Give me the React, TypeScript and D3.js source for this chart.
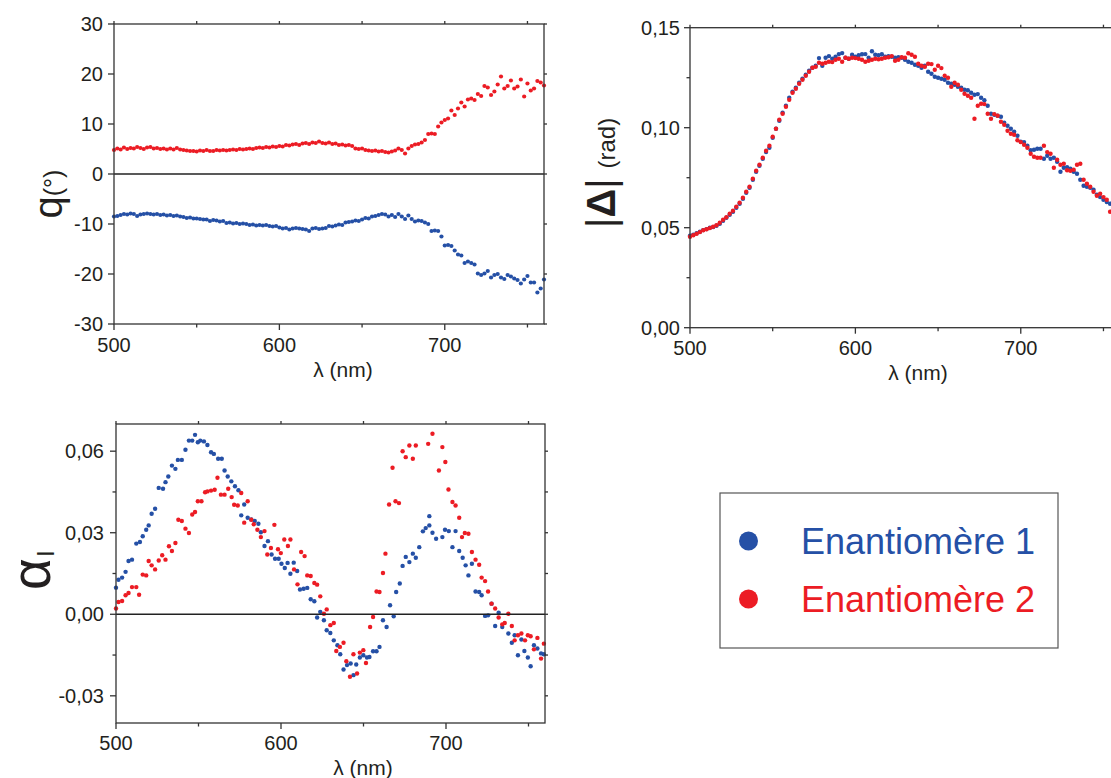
import React from 'react';
import * as d3 from 'd3';

// ---------- DATA ----------
const wlGrid = [
  500, 502, 504, 506, 508, 510, 512, 514, 516, 518,
  520, 522, 524, 526, 528, 530, 532, 534, 536, 538,
  540, 542, 544, 546, 548, 550, 552, 554, 556, 558,
  560, 562, 564, 566, 568, 570, 572, 574, 576, 578,
  580, 582, 584, 586, 588, 590, 592, 594, 596, 598,
  600, 602, 604, 606, 608, 610, 612, 614, 616, 618,
  620, 622, 624, 626, 628, 630, 632, 634, 636, 638,
  640, 642, 644, 646, 648, 650, 652, 654, 656, 658,
  660, 662, 664, 666, 668, 670, 672, 674, 676, 678,
  680, 682, 684, 686, 688, 690, 692, 694, 696, 698,
  700, 702, 704, 706, 708, 710, 712, 714, 716, 718,
  720, 722, 724, 726, 728, 730, 732, 734, 736, 738,
  740, 742, 744, 746, 748, 750, 752, 754, 756, 758,
  760,
];

// q (°) – Enantiomère 2 (red)
const qRed = [
  4.8, 5.1, 4.9, 5.3, 5.0, 5.2, 5.1, 5.4, 5.2, 5.0,
  5.3, 5.4, 5.1, 5.2, 5.0, 5.1, 4.9, 5.1, 4.9, 5.2,
  4.9, 4.8, 4.7, 4.6, 4.6, 4.5, 4.7, 4.6, 4.8, 4.6,
  4.6, 4.8, 4.7, 4.8, 4.7, 4.8, 4.9, 4.8, 5.0, 4.9,
  5.0, 5.1, 5.0, 5.2, 5.3, 5.2, 5.4, 5.3, 5.5, 5.4,
  5.6, 5.5, 5.8, 5.7, 5.9, 6.0, 5.8, 6.1, 6.2, 6.0,
  6.3, 6.2, 6.5, 6.2, 6.1, 6.3, 6.0, 6.1, 5.8, 5.9,
  5.7, 5.8, 5.6, 5.1, 5.0, 5.1, 4.8, 4.7, 4.6, 4.7,
  4.5, 4.6, 4.4, 4.3, 4.5, 4.7, 5.1, 4.8, 4.1, 5.1,
  5.6, 5.9, 6.0, 6.3, 6.8, 8.0, 8.1, 8.0, 9.5, 10.3,
  10.8, 11.1, 12.7, 11.8, 13.1, 14.3, 13.5, 14.9, 15.1, 14.8,
  16.0, 15.6, 17.6, 17.3, 15.8, 16.5, 17.9, 19.5, 17.1, 17.6,
  18.7, 17.1, 17.5, 18.9, 15.5, 18.1, 16.7, 17.1, 18.6, 18.3,
  17.7,
];

// q (°) – Enantiomère 1 (blue)
const qBlue = [
  -8.5, -8.4, -8.2, -8.0, -8.1, -7.9, -8.0, -8.4, -8.1, -8.0,
  -7.9, -8.0, -8.1, -8.0, -8.2, -8.1, -8.3, -8.2, -8.4, -8.3,
  -8.5, -8.6, -8.8, -8.7, -8.9, -8.9, -9.0, -9.1, -9.1, -9.4,
  -9.2, -9.3, -9.5, -9.4, -9.8, -9.7, -9.9, -9.8, -10.0, -9.9,
  -10.0, -10.2, -10.1, -10.3, -10.2, -10.3, -10.2, -10.4, -10.5, -10.4,
  -10.7, -10.9, -10.8, -11.1, -10.9, -10.8, -10.9, -11.0, -11.1, -11.4,
  -10.9, -10.8, -11.0, -10.9, -10.8, -10.4, -10.5, -10.3, -10.1, -10.2,
  -9.7, -9.6, -9.5, -9.3, -9.4, -9.1, -8.8, -8.9, -8.5, -8.4,
  -8.2, -8.0, -8.1, -8.5, -8.2, -8.6, -8.0, -8.5, -9.0, -8.3,
  -9.0, -9.5, -9.3, -9.4, -9.7, -10.0, -11.4, -11.3, -11.4, -12.5,
  -14.3, -14.2, -14.4, -15.3, -16.1, -16.3, -17.8, -17.5, -17.8, -18.1,
  -19.9, -20.2, -19.9, -19.4, -20.7, -20.2, -20.0, -20.7, -21.0, -20.2,
  -20.5, -20.9, -21.2, -21.9, -21.1, -20.4, -21.7, -21.7, -23.7, -22.9,
  -21.1,
];

// |Δ| (rad) – Enantiomère 2 (red)
const dRed = [
  0.0455, 0.0462, 0.0470, 0.0478, 0.0487, 0.0492, 0.0498, 0.0505, 0.0512, 0.0525,
  0.0540, 0.0552, 0.0570, 0.0585, 0.0605, 0.0625, 0.0650, 0.0680, 0.0705, 0.0745,
  0.0785, 0.0815, 0.0850, 0.0885, 0.0910, 0.0955, 0.0995, 0.1040, 0.1070, 0.1105,
  0.1140, 0.1175, 0.1195, 0.1220, 0.1240, 0.1260, 0.1280, 0.1300, 0.1305, 0.1325,
  0.1320, 0.1325, 0.1330, 0.1328, 0.1340, 0.1345, 0.1330, 0.1350, 0.1345, 0.1350,
  0.1348, 0.1345, 0.1340, 0.1330, 0.1335, 0.1340, 0.1345, 0.1342, 0.1345, 0.1350,
  0.1352, 0.1358, 0.1335, 0.1340, 0.1352, 0.1350, 0.1372, 0.1365, 0.1355, 0.1320,
  0.1310, 0.1305, 0.1320, 0.1318, 0.1290, 0.1310, 0.1298, 0.1260, 0.1250, 0.1205,
  0.1225, 0.1215, 0.1190, 0.1170, 0.1160, 0.1150, 0.1045, 0.1110, 0.1120, 0.1118,
  0.1070, 0.1045, 0.1068, 0.1060, 0.1030, 0.1015, 0.0985, 0.0970, 0.0965, 0.0937,
  0.0928, 0.0915, 0.0900, 0.0870, 0.0855, 0.0850, 0.0850, 0.0910, 0.0878, 0.0870,
  0.0800, 0.0840, 0.0815, 0.0820, 0.0787, 0.0785, 0.0790, 0.0815, 0.0820, 0.0740,
  0.0720, 0.0705, 0.0680, 0.0660, 0.0670, 0.0653, 0.0640, 0.0580, 0.0600, 0.0575,
  0.0560,
];

// |Δ| (rad) – Enantiomère 1 (blue)
const dBlue = [
  0.0460, 0.0465, 0.0472, 0.0480, 0.0488, 0.0493, 0.0500, 0.0503, 0.0510, 0.0520,
  0.0535, 0.0550, 0.0565, 0.0580, 0.0600, 0.0620, 0.0645, 0.0675, 0.0700, 0.0740,
  0.0780, 0.0810, 0.0845, 0.0878, 0.0900, 0.0950, 0.0995, 0.1035, 0.1075, 0.1110,
  0.1150, 0.1180, 0.1200, 0.1225, 0.1245, 0.1265, 0.1285, 0.1300, 0.1310, 0.1348,
  0.1310, 0.1350, 0.1358, 0.1345, 0.1355, 0.1368, 0.1373, 0.1350, 0.1345, 0.1365,
  0.1355, 0.1362, 0.1367, 0.1368, 0.1350, 0.1382, 0.1365, 0.1362, 0.1367, 0.1355,
  0.1357, 0.1355, 0.1350, 0.1352, 0.1350, 0.1340, 0.1330, 0.1325, 0.1315, 0.1310,
  0.1300, 0.1310, 0.1280, 0.1270, 0.1255, 0.1250, 0.1245, 0.1240, 0.1225, 0.1220,
  0.1215, 0.1205, 0.1200, 0.1190, 0.1187, 0.1175, 0.1165, 0.1168, 0.1150, 0.1137,
  0.1110, 0.1070, 0.1065, 0.1060, 0.1055, 0.1025, 0.1010, 0.0995, 0.0980, 0.0960,
  0.0930, 0.0928, 0.0910, 0.0887, 0.0890, 0.0895, 0.0895, 0.0845, 0.0860, 0.0845,
  0.0850, 0.0830, 0.0780, 0.0800, 0.0803, 0.0795, 0.0780, 0.0770, 0.0740, 0.0710,
  0.0705, 0.0700, 0.0690, 0.0665, 0.0653, 0.0640, 0.0628, 0.0620, 0.0610, 0.0600,
  0.0590,
];

// α_l – Enantiomère 1 (blue)
const alphaBlueWl = [
  500.0, 501.5, 503.7, 505.8, 507.6, 509.7, 512.3, 514.5, 516.2, 518.3,
  519.8, 521.6, 523.7, 525.9, 528.5, 530.0, 531.7, 533.9, 536.0, 537.5,
  539.9, 542.1, 544.2, 546.2, 547.9, 549.6, 551.1, 553.3, 555.4, 557.6,
  559.3, 561.9, 564.1, 565.8, 567.7, 569.9, 572.1, 574.2, 575.9, 577.7,
  579.8, 582.0, 584.1, 586.3, 587.8, 590.0, 592.1, 594.3, 596.4, 598.6,
  600.3, 602.3, 604.0, 605.7, 607.7, 609.8, 611.5, 613.7, 615.9, 618.0,
  620.2, 621.9, 623.8, 626.0, 627.7, 629.9, 632.0, 634.2, 635.9, 637.9,
  640.0, 642.2, 643.9, 645.6, 647.8, 649.9, 652.1, 653.6, 655.8, 657.9,
  659.7, 661.8, 664.0, 666.1, 668.3, 669.8, 672.0, 673.7, 675.6, 677.8,
  679.9, 681.7, 683.8, 686.0, 687.7, 689.9, 689.9, 691.8, 694.0, 697.8,
  699.4, 701.7, 703.9, 705.8, 708.0, 710.1, 711.9, 713.6, 715.7, 717.9,
  720.1, 721.6, 723.7, 725.5, 727.6, 729.8, 731.9, 734.1, 737.8, 739.9,
  741.6, 743.6, 745.7, 747.5, 749.6, 751.3, 753.3, 755.4, 757.6, 759.3,
];
const alphaBlueVal = [
  0.0098, 0.0127, 0.0135, 0.0156, 0.0196, 0.0201, 0.0260, 0.0266, 0.0287, 0.0311,
  0.0327, 0.0370, 0.0388, 0.0465, 0.0462, 0.0486, 0.0507, 0.0547, 0.0535, 0.0568,
  0.0568, 0.0605, 0.0639, 0.0639, 0.0660, 0.0633, 0.0639, 0.0636, 0.0623, 0.0596,
  0.0590, 0.0572, 0.0572, 0.0529, 0.0507, 0.0489, 0.0471, 0.0456, 0.0364, 0.0404,
  0.0355, 0.0349, 0.0343, 0.0333, 0.0302, 0.0251, 0.0269, 0.0220, 0.0204, 0.0204,
  0.0186, 0.0170, 0.0189, 0.0149, 0.0190, 0.0159, 0.0091, 0.0094, 0.0097, 0.0055,
  0.0048, -0.0012, 0.0009, -0.0022, -0.0059, -0.0069, -0.0096, -0.0114, -0.0147, -0.0203,
  -0.0187, -0.0181, -0.0224, -0.0185, -0.0159, -0.0151, -0.0159, -0.0157, -0.0136, -0.0136,
  -0.0120, -0.0022, -0.0047, 0.0033, -0.0007, 0.0082, 0.0113, 0.0178, 0.0211, 0.0192,
  0.0223, 0.0208, 0.0247, 0.0305, 0.0317, 0.0327, 0.0361, 0.0300, 0.0278, 0.0284,
  0.0311, 0.0306, 0.0247, 0.0306, 0.0233, 0.0208, 0.0180, 0.0143, 0.0186, 0.0084,
  0.0082, 0.0070, -0.0006, -0.0004, 0.0039, -0.0043, 0.0006, -0.0047, -0.0071, -0.0105,
  -0.0077, -0.0151, -0.0093, -0.0135, -0.0159, -0.0191, -0.0114, -0.0126, -0.0144, -0.0147,
];

// α_l – Enantiomère 2 (red)
const alphaRedWl = [
  500.0, 501.5, 503.7, 505.8, 507.6, 509.7, 512.3, 514.0, 516.2, 518.3,
  519.8, 521.6, 523.7, 525.9, 528.0, 530.0, 532.1, 533.9, 536.0, 537.8,
  539.9, 542.1, 544.2, 546.2, 547.9, 549.6, 551.8, 554.0, 555.4, 557.6,
  559.8, 561.5, 563.6, 565.8, 568.0, 570.1, 571.6, 573.8, 575.9, 577.7,
  579.8, 582.0, 583.5, 585.7, 587.8, 590.0, 591.7, 593.9, 596.0, 598.2,
  599.9, 602.0, 604.2, 605.7, 607.9, 610.0, 612.2, 614.3, 615.9, 618.0,
  620.2, 621.9, 623.8, 626.0, 627.7, 629.9, 632.0, 633.5, 635.7, 637.9,
  639.6, 641.8, 643.9, 646.1, 647.8, 649.9, 651.5, 654.0, 655.8, 657.9,
  659.7, 661.8, 663.3, 665.5, 667.6, 669.4, 671.5, 673.7, 675.6, 677.8,
  679.9, 681.7, 689.2, 691.8, 695.7, 697.8, 699.6, 701.5, 703.9, 705.8,
  708.0, 709.7, 711.4, 713.6, 715.7, 717.9, 720.1, 721.6, 723.7, 725.5,
  727.6, 729.8, 731.9, 734.1, 735.6, 737.8, 739.9, 741.6, 743.6, 745.7,
  747.9, 749.6, 751.3, 753.3, 755.4, 757.6, 759.3,
];
const alphaRedVal = [
  0.0021, 0.0045, 0.0049, 0.0070, 0.0078, 0.0100, 0.0100, 0.0072, 0.0146, 0.0143,
  0.0196, 0.0180, 0.0165, 0.0198, 0.0217, 0.0201, 0.0250, 0.0233, 0.0262, 0.0348,
  0.0343, 0.0315, 0.0299, 0.0367, 0.0376, 0.0416, 0.0416, 0.0449, 0.0452, 0.0455,
  0.0458, 0.0502, 0.0440, 0.0440, 0.0462, 0.0431, 0.0403, 0.0400, 0.0446, 0.0337,
  0.0416, 0.0348, 0.0331, 0.0311, 0.0284, 0.0306, 0.0220, 0.0244, 0.0329, 0.0239,
  0.0225, 0.0275, 0.0251, 0.0275, 0.0165, 0.0110, 0.0229, 0.0214, 0.0143, 0.0141,
  0.0115, 0.0109, 0.0066, 0.0002, 0.0018, -0.0040, -0.0032, -0.0135, -0.0120, -0.0105,
  -0.0173, -0.0230, -0.0147, -0.0218, -0.0141, -0.0132, -0.0179, -0.0047, -0.0010, 0.0084,
  0.0082, 0.0152, 0.0223, 0.0404, 0.0539, 0.0416, 0.0409, 0.0600, 0.0578, 0.0621,
  0.0572, 0.0621, 0.0627, 0.0664, 0.0529, 0.0615, 0.0560, 0.0459, 0.0413, 0.0400,
  0.0355, 0.0284, 0.0299, 0.0296, 0.0229, 0.0201, 0.0182, 0.0135, 0.0122, 0.0084,
  0.0039, 0.0021, -0.0012, -0.0037, -0.0032, 0.0002, -0.0043, -0.0096, -0.0077, -0.0071,
  -0.0096, -0.0077, -0.0081, -0.0129, -0.0087, -0.0163, -0.0108,
];

const xMajor = [500, 600, 700];
const xMinor = [550, 650, 750];
const qTicks = [30, 20, 10, 0, -10, -20, -30];
const dMajor = [0.15, 0.10, 0.05, 0.0];
const dMinor = [0.125, 0.075, 0.025];
const aMajor = [0.06, 0.03, 0.0, -0.03];
const aMinor = [0.045, 0.015, -0.015];
const legendLabels = ['Enantiomère 1', 'Enantiomère 2'];

// ---------- STYLE ----------
const BLUE = '#2550a6';
const RED = '#ec1c24';
const AXIS = '#333333';
const TEXT = '#231f20';
const FONT = '"Liberation Sans", Arial, Helvetica, sans-serif';

type Series = { xs: number[]; ys: number[]; color: string };

type PanelProps = {
  left: number; right: number; top: number; bottom: number;
  yDomain: [number, number];
  yMajor: number[]; yMinor: number[];
  fmt: (v: number) => string;
  yLabelEnd: number;
  xTickLabelY: number;
  xLabelX: number; xLabelY: number;
  zeroLine: boolean;
  series: Series[];
  r: number;
};

function Panel(p: PanelProps) {
  const x = d3.scaleLinear().domain([500, 760]).range([p.left, p.right]);
  const y = d3.scaleLinear().domain(p.yDomain).range([p.bottom, p.top]);
  const sw = 1.3;
  return (
    <g>
      {p.series.map((s, si) => (
        <g key={si} fill={s.color}>
          {s.xs.map((xv, i) => (
            <circle key={i} cx={x(xv)} cy={y(s.ys[i])} r={p.r} />
          ))}
        </g>
      ))}
      {p.zeroLine && (
        <line x1={p.left} x2={p.right} y1={y(0)} y2={y(0)} stroke="#222" strokeWidth={1.6} />
      )}
      <rect x={p.left} y={p.top} width={p.right - p.left} height={p.bottom - p.top}
        fill="none" stroke={AXIS} strokeWidth={sw} />
      {xMajor.map((t) => (
        <g key={'xM' + t}>
          <line x1={x(t)} x2={x(t)} y1={p.bottom} y2={p.bottom + 6} stroke={AXIS} strokeWidth={sw} />
          <line x1={x(t)} x2={x(t)} y1={p.top} y2={p.top - 3} stroke={AXIS} strokeWidth={sw} />
          <text x={x(t)} y={p.xTickLabelY} textAnchor="middle" fontSize={20} fill={TEXT}>{t}</text>
        </g>
      ))}
      {xMinor.map((t) => (
        <g key={'xm' + t}>
          <line x1={x(t)} x2={x(t)} y1={p.bottom} y2={p.bottom + 3.5} stroke={AXIS} strokeWidth={sw} />
          <line x1={x(t)} x2={x(t)} y1={p.top} y2={p.top - 3} stroke={AXIS} strokeWidth={sw} />
        </g>
      ))}
      {p.yMajor.map((t) => (
        <g key={'yM' + t}>
          <line x1={p.left} x2={p.left - 6} y1={y(t)} y2={y(t)} stroke={AXIS} strokeWidth={sw} />
          <line x1={p.right} x2={p.right + 3} y1={y(t)} y2={y(t)} stroke={AXIS} strokeWidth={sw} />
          <text x={p.yLabelEnd} y={y(t)} dy="0.36em" textAnchor="end" fontSize={20} fill={TEXT}>{p.fmt(t)}</text>
        </g>
      ))}
      {p.yMinor.map((t) => (
        <g key={'ym' + t}>
          <line x1={p.left} x2={p.left - 3.5} y1={y(t)} y2={y(t)} stroke={AXIS} strokeWidth={sw} />
          <line x1={p.right} x2={p.right + 3} y1={y(t)} y2={y(t)} stroke={AXIS} strokeWidth={sw} />
        </g>
      ))}
      <text x={p.xLabelX} y={p.xLabelY} textAnchor="middle" fontSize={21} fill={TEXT}>λ (nm)</text>
    </g>
  );
}

const commaFmt = (d: number) => d3.format('.2f')(d).replace('.', ',').replace('\u2212', '-');

export default function App() {
  const lx = d3.scaleBand().domain(legendLabels).range([512, 628]);
  const legendColors = [BLUE, RED];
  return (
    <svg width={1111} height={778} style={{ position: 'absolute', left: 0, top: 0, background: '#fff' }}
      fontFamily={FONT}>
      <rect x={0} y={0} width={1111} height={778} fill="#fff" />
      {/* Top-left: q */}
      <Panel left={114} right={544} top={24} bottom={324} yDomain={[-30, 30]}
        yMajor={qTicks} yMinor={[]} fmt={(d) => String(d).replace('\u2212', '-')} yLabelEnd={103}
        xTickLabelY={352} xLabelX={343} xLabelY={377} zeroLine={true} r={2.1}
        series={[{ xs: wlGrid, ys: qRed, color: RED }, { xs: wlGrid, ys: qBlue, color: BLUE }]} />
      <text transform="translate(62,194) rotate(-90)" textAnchor="middle" fill={TEXT}>
        <tspan fontSize={40}>q</tspan><tspan fontSize={25}>(°)</tspan>
      </text>

      {/* Top-right: |Δ| */}
      <Panel left={690} right={1120} top={27.7} bottom={327.7} yDomain={[0, 0.15]}
        yMajor={dMajor} yMinor={dMinor} fmt={commaFmt} yLabelEnd={680}
        xTickLabelY={355} xLabelX={918} xLabelY={380} zeroLine={false} r={2.2}
        series={[{ xs: wlGrid, ys: dBlue, color: BLUE }, { xs: wlGrid, ys: dRed, color: RED }]} />
      <text transform="translate(615,228) rotate(-90)" textAnchor="start" fill={TEXT}>
        <tspan fontSize={40}>|</tspan><tspan fontSize={40} fontWeight="bold">Δ</tspan><tspan fontSize={40}>|</tspan>
        <tspan fontSize={24} dx={10}>(rad)</tspan>
      </text>

      {/* Bottom-left: α_l */}
      <Panel left={116} right={545} top={424} bottom={723} yDomain={[-0.04, 0.07]}
        yMajor={aMajor} yMinor={aMinor} fmt={commaFmt} yLabelEnd={104}
        xTickLabelY={750} xLabelX={363} xLabelY={775} zeroLine={true} r={2.2}
        series={[{ xs: alphaBlueWl, ys: alphaBlueVal, color: BLUE }, { xs: alphaRedWl, ys: alphaRedVal, color: RED }]} />
      <text transform="translate(50,590) rotate(-90)" textAnchor="start" fill={TEXT}>
        <tspan fontSize={55}>α</tspan><tspan fontSize={24} dy={4} dx={2}>l</tspan>
      </text>

      {/* Legend */}
      <rect x={720} y={493} width={338} height={155} fill="#fff" stroke="#555" strokeWidth={1.2} />
      {legendLabels.map((lab, i) => {
        const cy = (lx(lab) as number) + lx.bandwidth() / 2;
        return (
          <g key={lab}>
            <circle cx={748.5} cy={cy} r={9.5} fill={legendColors[i]} />
            <text x={801} y={cy} dy="0.35em" fontSize={36} fill={legendColors[i]}>{lab}</text>
          </g>
        );
      })}
    </svg>
  );
}
